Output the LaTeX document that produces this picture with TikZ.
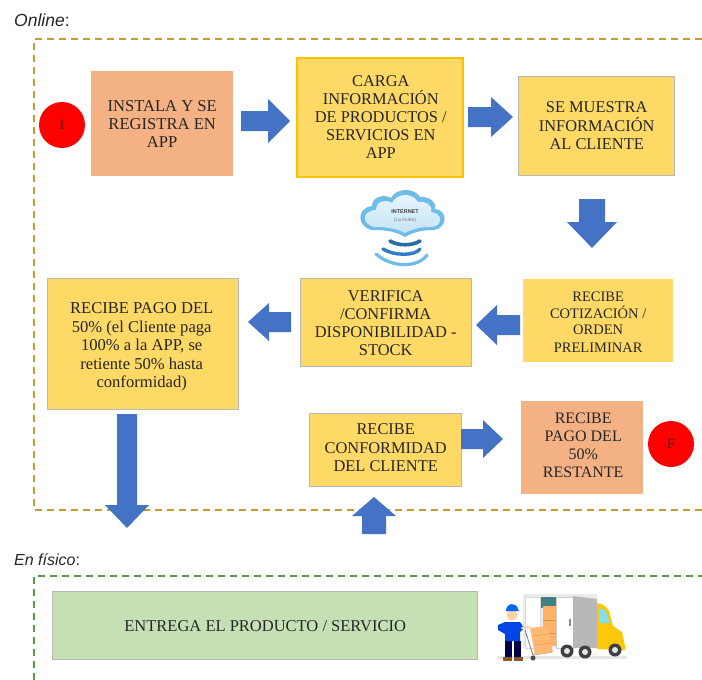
\documentclass[tikz,border=0pt]{standalone}
\usepackage{fontspec}
\setmainfont{Liberation Serif}
\newfontfamily\labelfont{Liberation Sans}
\usetikzlibrary{calc}
\definecolor{boxy}{HTML}{FFD966}
\definecolor{boxo}{HTML}{F4B183}
\definecolor{boxg}{HTML}{C5E0B4}
\definecolor{edgeg}{HTML}{B8B8B8}
\definecolor{edgey}{HTML}{FFC000}
\definecolor{arrowb}{HTML}{4472C4}
\definecolor{dasho}{HTML}{C99A2E}
\definecolor{dashg}{HTML}{5B9A45}
\definecolor{cloudb}{HTML}{6FBBEA}
\definecolor{cloudl}{HTML}{EAF6FD}
\definecolor{waveb}{HTML}{2F7FC8}
\tikzset{
  x=1pt,y=-1pt,
  every node/.style={font=\fontsize{16}{18}\selectfont,text=black!85,align=center,inner sep=0pt},
  flowbox/.style={rectangle,anchor=north west},
  yellowgray/.style={flowbox,fill=boxy,draw=edgeg,line width=1.4pt},
  yellowgold/.style={flowbox,fill=boxy,draw=edgey,line width=1.6pt},
  yellowplain/.style={flowbox,fill=boxy},
  orangebox/.style={flowbox,fill=boxo},
  greenbox/.style={flowbox,fill=boxg,draw=edgeg,line width=1.4pt},
  startend/.style={circle,fill=red,minimum size=46pt,font=\fontsize{14}{16}\selectfont},
  blockarrow/.style={fill=arrowb,draw=none},
  dashframe/.style={line width=1.2pt,dash pattern=on 7pt off 5pt},
  sidelabel/.style={anchor=west,text=black!85},
}
% \boxat{style}{name}{x0}{y0}{x1}{y1}{dx}{dy}{text}
\newcommand{\boxat}[9]{%
  \pgfmathsetlengthmacro{\bw}{#5-#3}\pgfmathsetlengthmacro{\bh}{#6-#4}%
  \node[#1,minimum width=\bw,minimum height=\bh] (#2) at (#3,#4) {};
  \node[text width=\bw] (#2text) at ($(#2.center)+(#7,#8)$) {#9};}
\newcommand{\tight}[2]{\fontsize{#1}{#2}\selectfont\spaceskip=.25em\relax}
\newcommand{\rarrow}[6]{% x0 xhead x1 ymid halfshaft halfhead
  \fill[blockarrow] (#1,#4-#5) -- (#2,#4-#5) -- (#2,#4-#6) -- (#3,#4) -- (#2,#4+#6) -- (#2,#4+#5) -- (#1,#4+#5) -- cycle;}
\newcommand{\varrow}[6]{% y0 yhead y1 xmid halfshaft halfhead
  \fill[blockarrow] (#4-#5,#1) -- (#4-#5,#2) -- (#4-#6,#2) -- (#4,#3) -- (#4+#6,#2) -- (#4+#5,#2) -- (#4+#5,#1) -- cycle;}
\begin{document}
\begin{tikzpicture}
\useasboundingbox (0,0) rectangle (702,680);
\fill[white] (0,0) rectangle (702,680);
% frames
\coordinate (fa) at (34,510); \coordinate (fb) at (34,39); \coordinate (fc) at (702,39); \coordinate (fd) at (702,510);
\draw[dashframe,draw=dasho] (fc) -- (fb) -- (fa) -- (fd);
\coordinate (ga) at (34,680); \coordinate (gb) at (34,576); \coordinate (gc) at (702,576);
\draw[dashframe,draw=dashg] (ga) -- (gb) -- (gc);
\node[sidelabel,font=\labelfont\fontsize{17.5}{20}\selectfont] (online) at (14,20) {\textit{Online}:};
\node[sidelabel,font=\labelfont\fontsize{16}{20}\selectfont] (fisico) at (14,560) {\textit{En físico}:};
% boxes
\boxat{orangebox}{instala}{91}{71}{233}{176}{0}{0}{\tight{16.6}{18}INSTALA Y SE\\REGISTRA EN\\APP}
\boxat{yellowgold}{carga}{296}{57}{462}{176}{1}{0}{\tight{16.4}{18}CARGA\\INFORMACIÓN\\DE PRODUCTOS /\\SERVICIOS EN\\APP}
\boxat{yellowgray}{muestra}{518}{76}{674}{175}{0}{-0.5}{\tight{16.4}{19}SE MUESTRA\\INFORMACIÓN\\AL CLIENTE}
\boxat{yellowplain}{cotiza}{523}{279}{673}{362}{0}{1.5}{\tight{14.5}{16.5}RECIBE\\COTIZACIÓN /\\ORDEN\\PRELIMINAR}
\boxat{yellowgray}{verifica}{300}{278}{471}{366}{-0.5}{0.5}{\tight{16.4}{18.3}VERIFICA\\/CONFIRMA\\DISPONIBILIDAD -\\STOCK}
\boxat{yellowgray}{pago}{47}{278}{238}{409}{-1.5}{2.5}{\tight{16.6}{18.7}RECIBE PAGO DEL\\50\% (el Cliente paga\\100\% a la APP, se\\retiente 50\% hasta\\conformidad)}
\boxat{yellowgray}{conforme}{309}{413}{461}{486}{0}{-2.5}{\tight{16.4}{18.3}RECIBE\\CONFORMIDAD\\DEL CLIENTE}
\boxat{orangebox}{resto}{521}{401}{643}{494}{1}{-2}{\tight{16}{18}RECIBE\\PAGO DEL\\50\%\\RESTANTE}
\boxat{greenbox}{entrega}{52}{591}{477}{659}{0}{0.5}{\tight{16.5}{18}ENTREGA EL PRODUCTO / SERVICIO}
\node[startend] (ini) at (62,125) {I};
\node[startend] (fin) at (671,444) {F};
% arrows
\rarrow{241}{268}{290}{121}{10}{22}
\rarrow{468}{491}{513}{117}{10}{20}
\varrow{199}{222}{248}{592}{13}{25}
\rarrow{520}{497}{476}{325}{10}{20}
\rarrow{291}{269}{248}{322}{10}{19}
\varrow{414}{505}{528}{127}{10}{22}
\varrow{534}{516}{497}{374}{12}{22}
\rarrow{461}{483}{503}{439}{10}{19}
% cloud
\begin{scope}
\fill[cloudb] (372,230) .. controls (357,227) and (356,208) .. (372,206) .. controls (372,196) and (385,194) .. (391,198) .. controls (396,188) and (414,187) .. (420,197) .. controls (428,196) and (437,202) .. (435,209) .. controls (448,210) and (448,228) .. (434,230) .. controls (425,230) and (415,231) .. (405,237) .. controls (395,231) and (385,230) .. (372,230) -- cycle;
\shade[top color=cloudl,bottom color=cloudl!70!cloudb] (374,227) .. controls (362,224) and (361,211) .. (376,210) .. controls (376,201) and (386,199) .. (392,203) .. controls (397,193) and (412,192) .. (418,202) .. controls (426,201) and (433,205) .. (431,212) .. controls (443,213) and (443,226) .. (432,227) .. controls (422,227) and (414,228) .. (405,233) .. controls (396,228) and (385,227) .. (374,227) -- cycle;
\node[font=\labelfont\fontsize{5.5}{6}\selectfont\bfseries,text=black!75] (inet) at (405,212) {INTERNET};
\node[font=\labelfont\fontsize{5}{6}\selectfont,text=black!50] (nube) at (405,220) {(La Nube)};
\draw[waveb!85!black,line width=3.6pt,line cap=round] (390,241) .. controls (398,246) and (412,246) .. (420,241);
\draw[waveb,line width=3.4pt,line cap=round] (383,249) .. controls (394,256) and (415,256) .. (420,249);
\draw[cloudb,line width=3.2pt,line cap=round] (376,254) .. controls (392,268) and (418,268) .. (427,255);
\end{scope}
% truck
\begin{scope}
\fill[black!10] (497,659) rectangle (627,656);
% cargo body
\fill[black!8] (523,594) rectangle (597,648);
\fill[white,draw=black!15] (525,597) rectangle (540,648);
\fill[teal!50!gray] (541,597) rectangle (556,608);
\fill[orange!60] (543,606) rectangle (556,646);
\draw[orange!80!black!70,line width=.4pt] (543,620) -- (556,620) (543,633) -- (556,633);
\fill[white,draw=black!20] (556,597) rectangle (573,648);
\fill[black!45] (569,619) rectangle (571,626);
\fill[black!28] (573,596) -- (597,599) -- (597,648) -- (573,648) -- cycle;
% cab
\fill[yellow!60!orange] (597,603) .. controls (603,604) and (606,606) .. (609,611) -- (613,626) -- (622,632) -- (625,646) -- (625,650) -- (597,649) -- cycle;
\fill[blue!25!cyan!50] (599,608) -- (605,610) -- (610,623) -- (599,623) -- cycle;
% wheels
\foreach \wx/\wy in {567/651,585/652,615/650}{\fill[black!75] (\wx,\wy) circle (6.5pt); \fill[black!10] (\wx,\wy) circle (3pt);}
% trolley and boxes
\draw[black!45,line width=1pt] (525,630) -- (533,655) -- (552,652);
\fill[orange!55] (530,628) -- (547,626) -- (553,652) -- (535,655) -- cycle;
\draw[orange!80!black!70,line width=.4pt] (532,636) -- (549,634) (534,645) -- (551,643);
\fill[black!70] (533,658) circle (2.5pt);
% worker
\fill[black!70!blue] (505,641) rectangle (512,658);
\fill[black!70!blue] (514,641) rectangle (521,658);
\fill[brown!70!black] (503,657) rectangle (512,661);
\fill[brown!70!black] (514,657) rectangle (523,661);
\fill[blue!70!cyan!90!black] (498,625) -- (505,622) -- (520,622) -- (524,628) -- (520,632) -- (520,641) -- (505,641) -- (505,634) -- (498,630) -- cycle;
\fill[orange!35] (512,615) circle (5.5pt);
\fill[blue!60!cyan] (506,611) .. controls (506,602) and (518,602) .. (518,610) -- (520,611) -- cycle;
\draw[orange!35,line width=2pt,line cap=round] (522,628) -- (530,627);
\end{scope}
\end{tikzpicture}
\end{document}
